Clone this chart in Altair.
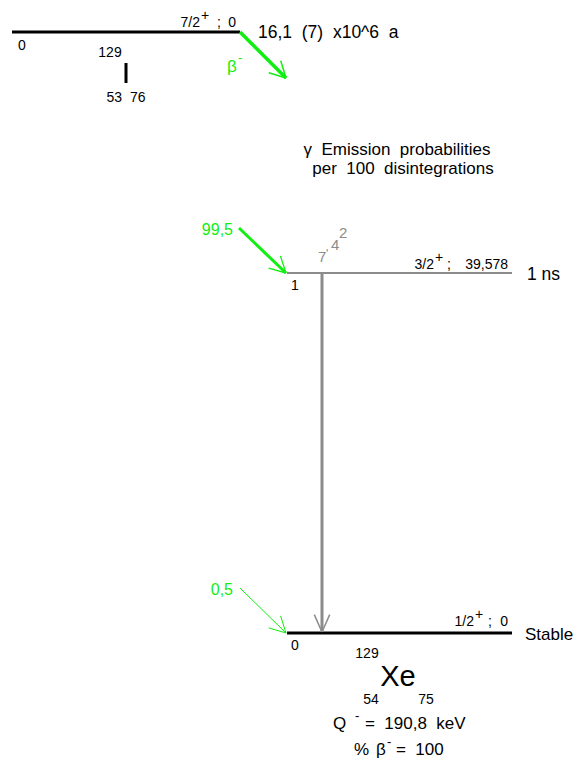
import math
import altair as alt
import pandas as pd

# ---------------- values read from the scheme ----------------
parent_spin, parent_parity, parent_energy = "7/2", "+", "0"
parent_halflife = "16,1  (7)  x10^6  a"
parent_A, parent_Z, parent_N = "129", "53", "76"

level_ids = ["1", "0"]
level_spins = ["3/2", "1/2"]
level_parities = ["+", "+"]
level_energies = ["39,578", "0"]
level_halflives = ["1 ns", "Stable"]
beta_intensities = ["99,5", "0,5"]
gamma_label_parts = ["7", "'", "4", "2"]

daughter_symbol, daughter_A, daughter_Z, daughter_N = "Xe", "129", "54", "75"
q_value = "190,8"
beta_percent = "100"
legend_lines = ["\u03b3  Emission  probabilities", "per  100  disintegrations"]

# ---------------- layout (page pixel frame) ----------------
FONT = "Liberation Sans"
GREEN = "#11ee11"
GREY = "#8c8c8c"
BLACK = "#000000"
NB = " \u00a0"  # wide word gap as in the original drawing

segs = []
texts = []


def seg(x, y, x2, y2, color, w):
    segs.append(dict(x=x, y=y, x2=x2, y2=y2, color=color, w=w))


def arrow(x0, y0, x1, y1, color, w, hw, ang=26, ln=19):
    seg(x0, y0, x1, y1, color, w)
    a = math.atan2(y0 - y1, x0 - x1)
    for s in (-1, 1):
        b = a + s * math.radians(ang)
        seg(x1, y1, x1 + ln * math.cos(b), y1 + ln * math.sin(b), color, hw)


def txt(x, y, t, size, color=BLACK, align="left"):
    texts.append(dict(x=x, y=y, text=t.replace("  ", NB), size=size, color=color, align=align))


def spin_label(x_spin_end, x_semicolon, x_end, y, spin, parity, energy):
    txt(x_spin_end, y, spin, 14, align="right")
    txt(x_spin_end + 1, y - 7, parity, 14)
    txt(x_semicolon, y, ";", 14)
    txt(x_end, y, energy, 14, align="right")


# parent level
seg(12, 32, 240, 32, BLACK, 3)
txt(18, 50, parent_energy, 14)
spin_label(200, 217, 236, 27, parent_spin, parent_parity, parent_energy)
txt(258, 38, parent_halflife, 17.5)
txt(110, 57, parent_A, 14, align="center")
seg(126, 63, 126, 83, BLACK, 3)
txt(126, 102, parent_Z + "  " + parent_N, 14, align="center")
# beta- arrow of parent
arrow(240, 32, 286, 78, GREEN, 3.5, 1.5, ang=28, ln=18)
txt(227, 72, "\u03b2", 17, GREEN)
txt(238, 62, "-", 13, GREEN)

# legend text
txt(397, 155, legend_lines[0], 17, align="center")
txt(403, 174, legend_lines[1], 17, align="center")

# levels
level_y = [273, 633]
for i, ly in enumerate(level_y):
    col = GREY if i == 0 else BLACK
    seg(287, ly, 512, ly, col, 2 if i == 0 else 3)
    txt(291, ly + 17, level_ids[i], 14)
    txt(527 if i == 0 else 525, ly + 7, level_halflives[i], 17.5 if i == 0 else 17)

spin_label(434, 447, 508, 269, level_spins[0], level_parities[0], level_energies[0])
spin_label(474, 488, 508, 626, level_spins[1], level_parities[1], level_energies[1])

# feeding beta branches
arrow(239, 228, 286, 273, GREEN, 3, 1.3, ang=28, ln=18)
txt(233, 235, beta_intensities[0], 16, GREEN, align="right")
arrow(240, 588, 286, 633, GREEN, 1, 1, ang=28, ln=18)
txt(233, 595, beta_intensities[1], 16, GREEN, align="right")

# gamma transition
arrow(322, 273, 322, 632, GREY, 3, 1.5, ang=24, ln=19)
txt(318, 262, gamma_label_parts[0], 15, GREY)
txt(326, 258, gamma_label_parts[1], 12, GREY)
txt(331, 250, gamma_label_parts[2], 15, GREY)
txt(339, 238, gamma_label_parts[3], 15, GREY)

# daughter nuclide
txt(367, 658, daughter_A, 14, align="center")
txt(398, 686, daughter_symbol, 29, align="center")
txt(371, 704, daughter_Z, 14, align="center")
txt(426, 704, daughter_N, 14, align="center")
txt(333, 729, "Q", 17)
txt(355, 720, "-", 13)
txt(365, 729, "=  " + q_value + "  keV", 17)
txt(354, 755, "%", 17)
txt(376, 755, "\u03b2", 17)
txt(387, 746, "-", 13)
txt(396, 755, "=  " + beta_percent, 17)

seg_df = pd.DataFrame(segs)
txt_df = pd.DataFrame(texts)

W, H = 565, 756
xs = alt.Scale(domain=[8, 8 + W], range=[0, W], nice=False, zero=False)
ys = alt.Scale(domain=[8, 8 + H], range=[0, H], nice=False, zero=False)

rules = alt.Chart(seg_df).mark_rule(strokeCap="butt").encode(
    x=alt.X("x:Q", scale=xs, axis=None),
    y=alt.Y("y:Q", scale=ys, axis=None),
    x2="x2:Q",
    y2="y2:Q",
    color=alt.Color("color:N", scale=None),
    strokeWidth=alt.StrokeWidth("w:Q", scale=None),
)

layers = [rules]
for al in ["left", "center", "right"]:
    sub = txt_df[txt_df["align"] == al]
    if len(sub) == 0:
        continue
    layers.append(
        alt.Chart(sub).mark_text(align=al, baseline="alphabetic", font=FONT).encode(
            x=alt.X("x:Q", scale=xs, axis=None),
            y=alt.Y("y:Q", scale=ys, axis=None),
            text="text:N",
            size=alt.Size("size:Q", scale=None),
            color=alt.Color("color:N", scale=None),
        )
    )

chart = alt.layer(*layers).properties(
    width=W, height=H, padding=0, autosize=alt.AutoSizeParams(type="none")
).configure_view(stroke=None)

chart.save("out.html", embed_options={"renderer": "svg", "actions": False})
